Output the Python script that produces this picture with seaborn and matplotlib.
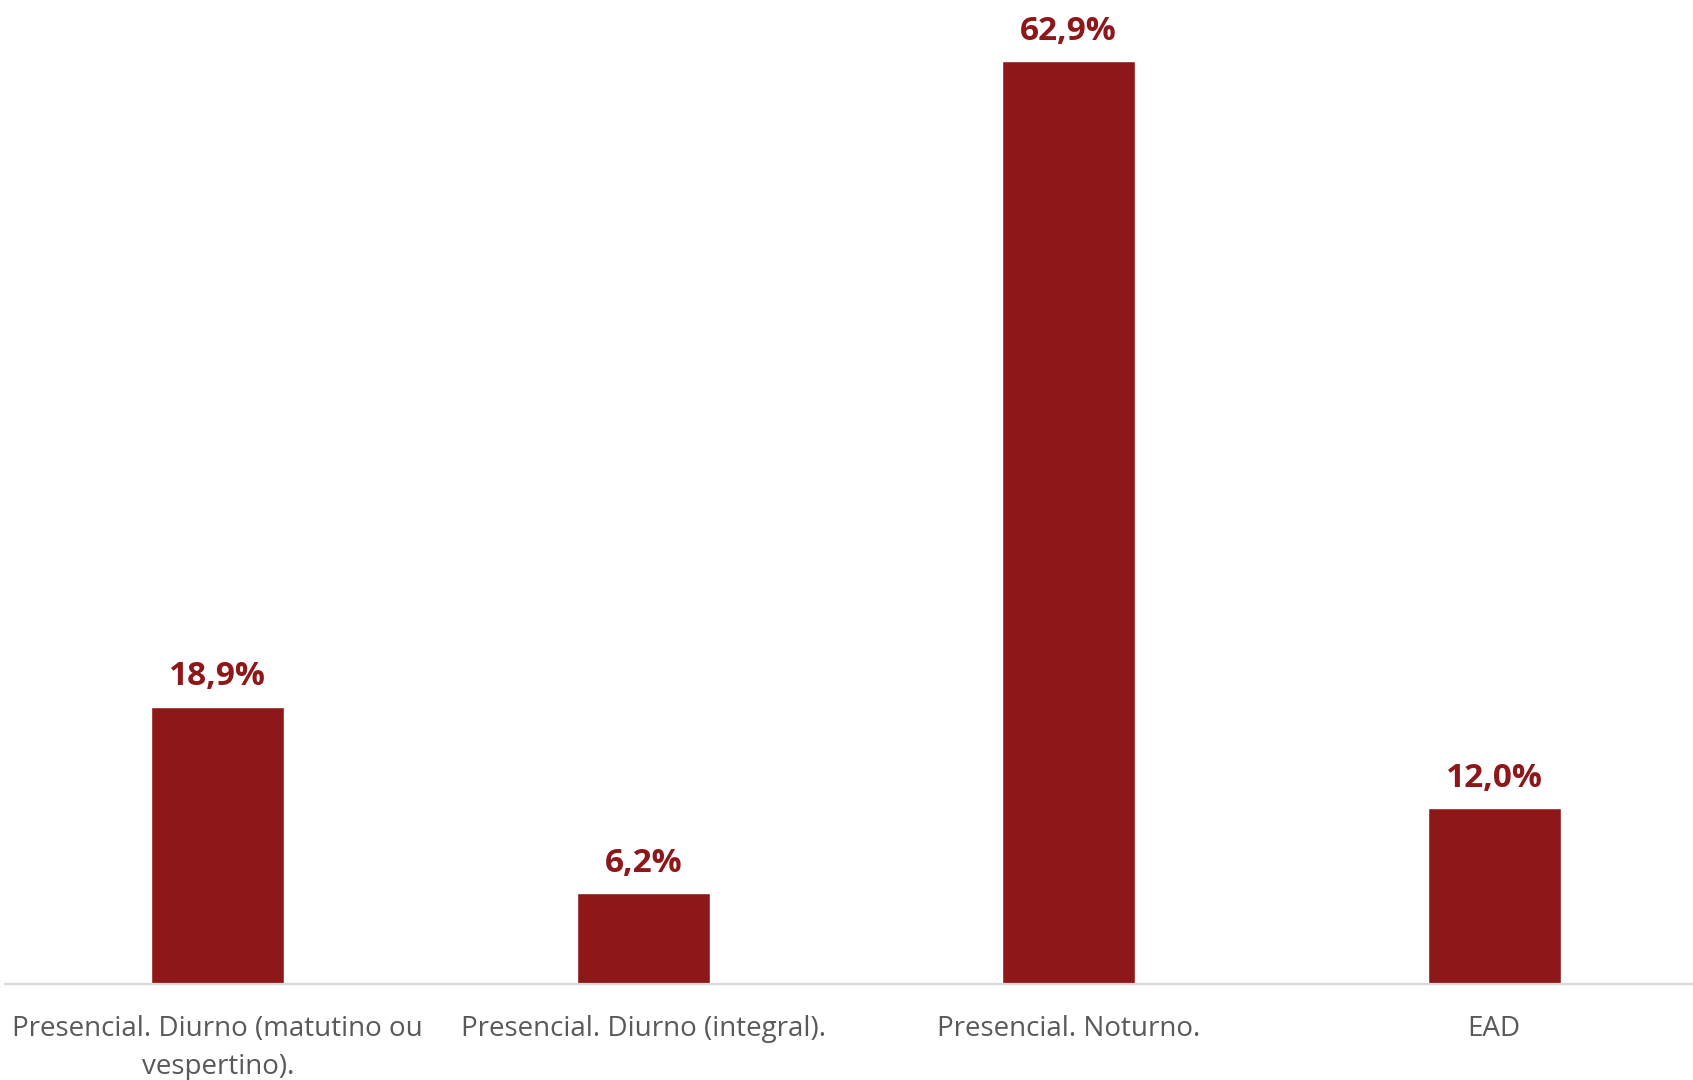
import matplotlib
matplotlib.use("Agg")
import matplotlib.pyplot as plt
import seaborn as sns
import pandas as pd

categories = [
    "Presencial. Diurno (matutino ou\nvespertino).",
    "Presencial. Diurno (integral).",
    "Presencial. Noturno.",
    "EAD",
]
values = [18.9, 6.2, 62.9, 12.0]
value_labels = ["18,9%", "6,2%", "62,9%", "12,0%"]

bar_color = "#8E171A"
text_gray = "#595959"

sns.set_theme(style="white")
plt.rcParams["font.family"] = ["Open Sans", "DejaVu Sans"]

df = pd.DataFrame({"categoria": categories, "valor": values})

fig = plt.figure(figsize=(16.93, 10.8), dpi=100)
ax = fig.add_axes([5 / 1693, 96 / 1080, 1702 / 1693, 984 / 1080])

sns.barplot(data=df, x="categoria", y="valor", color=bar_color,
            width=0.3125, saturation=1, ax=ax)

ax.set_ylim(0, 67.05)
ax.set_xlim(-0.5, len(categories) - 0.5)

for i, (v, lab) in enumerate(zip(values, value_labels)):
    ax.annotate(lab, xy=(i, v), xytext=(0, 9.5), textcoords="offset points",
                ha="center", va="bottom", fontsize=24, fontweight="bold",
                color=bar_color)

for side in ["left", "right", "top"]:
    ax.spines[side].set_visible(False)
ax.spines["bottom"].set_color("#D9D9D9")
ax.spines["bottom"].set_linewidth(1.6)

ax.set_yticks([])
ax.set_xlabel("")
ax.set_ylabel("")
ax.tick_params(axis="x", length=0, pad=22, labelsize=20, labelcolor=text_gray)
for t in ax.get_xticklabels():
    t.set_linespacing(1.5)

fig.savefig("out.png", dpi=100, facecolor="white")
